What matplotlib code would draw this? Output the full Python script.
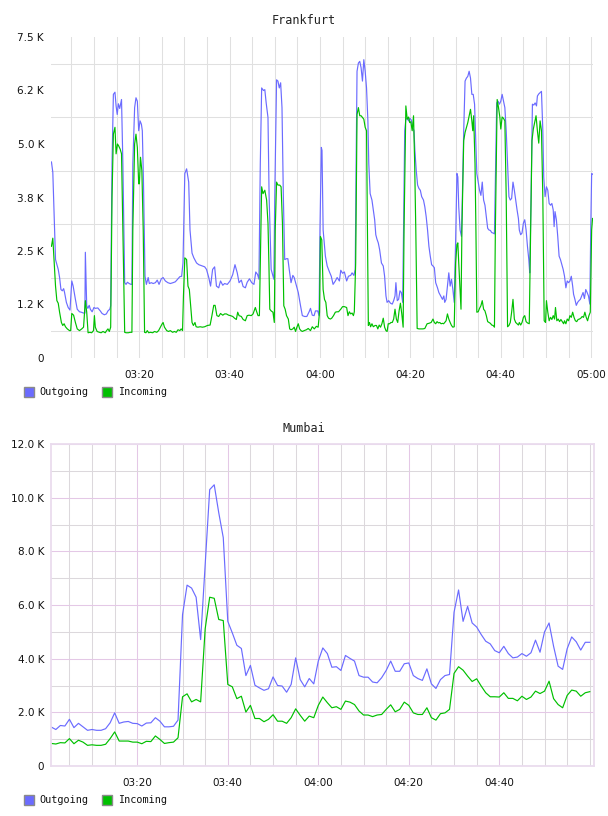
import matplotlib
matplotlib.use("Agg")
import matplotlib.pyplot as plt
from matplotlib.patches import Rectangle

# Frankfurt, minutes after 03:00 and bytes
fra_out_t = [0.6, 0.9, 1.5, 2.1, 2.4, 2.7, 3.0, 3.3, 3.5, 3.9, 4.3, 4.7, 5.1, 5.4, 5.9, 6.3, 6.8, 7.2, 7.7, 8.0,
             8.1, 8.4, 8.65, 8.95, 9.2, 9.6, 10.0, 10.3, 10.85, 11.4, 11.8, 12.3, 12.75, 13.1, 13.5, 13.7, 14.0, 14.3, 14.65, 14.9,
             15.15, 15.4, 15.7, 15.9, 16.1, 16.4, 16.8, 17.1, 17.4, 17.8, 18.2, 18.4, 18.6, 19.0, 19.3, 19.6, 19.9, 20.2, 20.5, 20.7,
             20.95, 21.3, 21.6, 22.0, 22.25, 22.7, 23.1, 23.6, 24.0, 24.4, 24.9, 25.3, 25.8, 26.35, 26.9, 27.5, 28.0, 28.5, 29.0, 29.4,
             29.7, 30.1, 30.5, 30.96, 31.25, 31.7, 32.1, 32.7, 33.2, 34.0, 34.5, 34.9, 35.4, 35.8, 36.25, 36.7, 37.1, 37.6, 38.0, 38.5,
             38.9, 39.5, 40.1, 40.7, 41.2, 41.7, 42.1, 42.6, 43.0, 43.5, 43.9, 44.4, 44.9, 45.4, 45.8, 46.2, 46.5, 46.8, 47.1, 47.5,
             47.8, 48.1, 48.5, 48.75, 49.2, 49.5, 49.8, 50.0, 50.4, 50.7, 51.0, 51.3, 51.6, 51.9, 52.2, 52.6, 52.9, 53.2, 53.6, 54.0,
             54.3, 54.8, 55.2, 55.7, 56.1, 56.6, 57.1, 57.6, 57.9, 58.3, 58.7, 59.0, 59.5, 59.8, 60.0, 60.3, 60.45, 60.7, 61.2, 61.6,
             62.1, 62.5, 62.9, 63.4, 63.8, 64.3, 64.6, 65.0, 65.4, 65.9, 66.3, 66.8, 67.1, 67.5, 67.8, 68.0, 68.2, 68.5, 68.8, 69.1,
             69.4, 69.7, 70.0, 70.3, 70.6, 70.8, 71.1, 71.5, 71.8, 72.1, 72.35, 72.6, 72.9, 73.2, 73.6, 74.0, 74.3, 74.6, 74.85, 75.2,
             75.6, 76.0, 76.3, 76.6, 76.8, 77.1, 77.4, 77.7, 78.0, 78.3, 78.5, 78.75, 79.0, 79.3, 79.6, 79.9, 80.2, 80.5, 80.8, 81.0,
             81.3, 81.6, 81.9, 82.2, 82.5, 82.9, 83.2, 83.5, 83.8, 84.1, 84.4, 84.7, 85.0, 85.3, 85.6, 86.0, 86.3, 86.7, 87.1, 87.4,
             87.6, 87.9, 88.2, 88.5, 88.8, 89.1, 89.4, 89.7, 90.0, 90.3, 90.5, 90.7, 91.0, 91.3, 91.5, 91.8, 92.1, 92.4, 92.7, 93.0,
             93.3, 93.6, 93.9, 94.2, 94.4, 94.7, 95.0, 95.3, 95.6, 95.9, 96.2, 96.5, 96.8, 97.1, 97.4, 97.7, 98.0, 98.3, 98.6, 98.8,
             99.1, 99.4, 99.7, 100.0, 100.3, 100.6, 100.9, 101.2, 101.5, 101.8, 102.1, 102.4, 102.7, 103.0, 103.3, 103.6, 103.9, 104.1, 104.4, 104.7,
             105.0, 105.3, 105.6, 105.9, 106.2, 106.4, 106.7, 107.0, 107.3, 107.6, 107.9, 108.1, 108.4, 108.7, 109.0, 109.3, 109.5, 109.8, 110.1, 110.4,
             110.7, 111.0, 111.3, 111.6, 111.8, 112.0, 112.3, 112.6, 112.9, 113.2, 113.5, 113.8, 114.1, 114.4, 114.7, 115.0, 115.3, 115.6, 115.9, 116.1,
             116.4, 116.7, 117.0, 117.3, 117.6, 117.9, 118.2, 118.5, 118.8, 119.1, 119.4, 119.7, 119.9, 120.1, 120.4]
fra_out = [4580, 4340, 2300, 2070, 1880, 1600, 1570, 1620, 1530, 1300, 1180, 1120, 1800, 1680, 1370, 1140, 1080, 1070, 1050, 1050,
           2470, 1220, 1160, 1230, 1140, 1080, 1180, 1160, 1170, 1100, 1040, 1010, 1030, 1100, 1140, 1220, 4540, 6160, 6210, 5890,
           5690, 5940, 5830, 5940, 6040, 4540, 1760, 1720, 1770, 1740, 1720, 1720, 4540, 5850, 6080, 6000, 5310, 5540, 5460, 5310,
           4150, 1910, 1720, 1880, 1740, 1760, 1740, 1760, 1820, 1720, 1850, 1880, 1800, 1760, 1740, 1760, 1780, 1840, 1900, 1910,
           2220, 4310, 4420, 4110, 2990, 2450, 2340, 2220, 2180, 2150, 2130, 2070, 1880, 1680, 2070, 2130, 1680, 1640, 1800, 1700,
           1740, 1720, 1800, 1950, 2180, 1990, 1760, 1820, 1670, 1640, 1770, 1850, 1760, 1720, 2010, 1950, 1840, 4540, 6310, 6250,
           6270, 5960, 5620, 3770, 2070, 1950, 1840, 3770, 6500, 6470, 6310, 6430, 5850, 3770, 2300, 2320, 2320, 2070, 1760, 1930,
           1880, 1680, 1530, 1220, 990, 970, 970, 1080, 1160, 1000, 990, 1100, 1100, 990, 2990, 4920, 4850, 2990, 2380, 2150,
           2010, 1910, 1720, 1800, 1880, 1800, 2050, 1980, 2010, 1800, 1910, 1930, 1990, 1930, 2070, 4540, 6700, 6890, 6930, 6780,
           6470, 6970, 6700, 6310, 5540, 4540, 3840, 3690, 3460, 3230, 2880, 2780, 2690, 2530, 2220, 2150, 1910, 1450, 1300, 1340,
           1280, 1260, 1340, 1450, 1760, 1340, 1370, 1570, 1530, 1300, 2990, 5310, 5580, 5600, 5540, 5600, 5560, 5390, 5310, 4850,
           4380, 4040, 3960, 3920, 3770, 3690, 3530, 3300, 2990, 2610, 2380, 2180, 2150, 2110, 1760, 1640, 1530, 1450, 1370, 1450,
           1300, 1370, 1680, 1990, 1680, 1840, 1600, 1300, 2690, 4310, 4230, 3530, 2990, 2840, 3770, 5310, 6470, 6540, 6580, 6700,
           6540, 6160, 6160, 5930, 5310, 4310, 4110, 3920, 3800, 4110, 3690, 3570, 3300, 3030, 2990, 2980, 2930, 2920, 2900, 4150,
           5960, 6000, 5930, 6000, 6160, 6000, 5850, 5310, 4540, 3770, 3690, 3730, 4110, 3920, 3690, 3460, 3260, 2990, 2880, 2920,
           3150, 3230, 2990, 2610, 2300, 1990, 3770, 5930, 5910, 5960, 5890, 6120, 6170, 6200, 6230, 5310, 4230, 3770, 4000, 3920,
           3610, 3570, 3610, 3460, 3070, 3420, 3230, 2840, 2380, 2300, 2180, 2070, 1910, 1640, 1800, 1760, 1800, 1910, 1680, 1490,
           1370, 1230, 1300, 1340, 1370, 1450, 1530, 1390, 1600, 1530, 1450, 1260, 2990, 4310, 4290]

fra_in_t = [0.6, 0.9, 1.2, 1.5, 1.8, 2.1, 2.4, 2.8, 3.1, 3.4, 3.7, 4.1, 4.6, 4.85, 5.1, 5.5, 5.9, 6.3, 6.8, 7.3,
            7.7, 8.1, 8.4, 8.7, 9.1, 9.5, 9.9, 10.1, 10.3, 10.7, 11.2, 11.6, 12.0, 12.5, 12.8, 13.1, 13.4, 13.7, 14.0, 14.3,
            14.65, 14.9, 15.2, 15.45, 15.8, 16.1, 16.4, 16.8, 17.1, 17.6, 18.0, 18.4, 18.6, 19.0, 19.3, 19.6, 19.9, 20.05, 20.3, 20.6,
            20.9, 21.2, 21.5, 21.8, 22.1, 22.5, 23.0, 23.4, 23.9, 24.3, 24.7, 25.1, 25.3, 25.6, 26.1, 26.5, 26.9, 27.4, 27.8, 28.2,
            28.6, 29.0, 29.3, 29.6, 29.8, 30.1, 30.5, 30.8, 31.1, 31.4, 31.7, 32.0, 32.35, 32.6, 33.0, 33.5, 34.0, 34.5, 35.1, 35.7,
            36.1, 36.5, 36.8, 37.2, 37.6, 38.0, 38.5, 38.9, 39.3, 39.8, 40.2, 40.7, 41.1, 41.5, 41.8, 42.1, 42.6, 43.0, 43.5, 43.9,
            44.3, 44.8, 45.2, 45.7, 46.0, 46.3, 46.6, 46.8, 47.1, 47.4, 47.8, 48.2, 48.5, 48.7, 48.9, 49.2, 49.6, 49.9, 50.1, 50.4,
            50.7, 51.1, 51.4, 51.7, 52.0, 52.3, 52.6, 53.0, 53.3, 53.6, 54.0, 54.3, 54.6, 54.9, 55.2, 55.5, 55.8, 56.1, 56.5, 57.0,
            57.4, 57.9, 58.3, 58.75, 59.2, 59.6, 59.9, 60.1, 60.4, 60.7, 61.0, 61.3, 61.6, 61.9, 62.3, 62.6, 63.0, 63.4, 63.75, 64.1,
            64.6, 65.0, 65.4, 65.9, 66.2, 66.5, 66.8, 67.1, 67.4, 67.6, 67.9, 68.2, 68.5, 68.8, 69.1, 69.4, 69.7, 70.0, 70.3, 70.5,
            70.7, 70.95, 71.2, 71.5, 71.8, 72.2, 72.5, 72.8, 73.1, 73.4, 73.7, 74.0, 74.3, 74.6, 74.85, 75.1, 75.4, 75.7, 76.0, 76.3,
            76.6, 76.9, 77.2, 77.5, 77.8, 78.1, 78.4, 78.6, 79.0, 79.3, 79.6, 79.85, 80.1, 80.4, 80.7, 80.95, 81.2, 81.5, 81.9, 82.35,
            82.8, 83.2, 83.7, 84.1, 84.6, 85.0, 85.3, 85.6, 85.9, 86.2, 86.5, 86.8, 87.1, 87.35, 87.6, 87.9, 88.2, 88.5, 88.8, 89.1,
            89.4, 89.7, 90.0, 90.3, 90.5, 90.7, 91.0, 91.2, 91.4, 91.8, 92.1, 92.4, 92.7, 93.0, 93.3, 93.6, 93.8, 94.0, 94.3, 94.5,
            94.7, 95.0, 95.3, 95.6, 95.9, 96.2, 96.5, 96.8, 97.1, 97.4, 97.7, 98.0, 98.3, 98.6, 98.8, 99.2, 99.5, 99.8, 100.0, 100.3,
            100.6, 100.9, 101.2, 101.5, 101.8, 102.1, 102.4, 102.7, 103.0, 103.3, 103.6, 103.9, 104.1, 104.4, 104.7, 105.0, 105.3, 105.6, 105.9, 106.3,
            106.5, 106.9, 107.2, 107.5, 107.8, 108.1, 108.4, 108.7, 109.0, 109.3, 109.6, 109.9, 110.1, 110.4, 110.7, 111.0, 111.3, 111.6, 111.9, 112.1,
            112.4, 112.7, 113.0, 113.3, 113.6, 113.9, 114.1, 114.4, 114.7, 115.0, 115.3, 115.6, 115.9, 116.2, 116.5, 116.8, 117.1, 117.4, 117.7, 118.0,
            118.3, 118.6, 118.9, 119.2, 119.5, 119.8, 120.1, 120.3]
fra_in = [2610, 2800, 2220, 1680, 1340, 1280, 1070, 830, 760, 800, 730, 680, 640, 640, 1040, 1000, 830, 680, 640, 680,
          720, 1340, 1070, 590, 600, 590, 640, 990, 720, 620, 600, 590, 620, 590, 640, 680, 620, 720, 3770, 5230,
          5390, 4770, 5000, 4960, 4880, 4770, 2990, 600, 590, 590, 600, 600, 2990, 5000, 5230, 4920, 4070, 4070, 4690, 4380,
          2990, 600, 590, 640, 590, 600, 590, 620, 600, 640, 720, 800, 830, 720, 640, 620, 640, 600, 620, 600,
          660, 640, 680, 640, 1450, 2340, 2300, 1680, 1600, 1220, 830, 760, 830, 730, 720, 730, 720, 730, 760, 770,
          990, 1230, 1230, 990, 970, 1040, 1000, 1030, 1030, 1000, 990, 970, 930, 900, 1070, 990, 970, 900, 870, 990,
          1000, 990, 1030, 1180, 1080, 990, 990, 2220, 4000, 3840, 3920, 3690, 3150, 2220, 1140, 1100, 1070, 830, 2990, 4110,
          4040, 4040, 4000, 3150, 1220, 1140, 990, 910, 680, 660, 680, 720, 620, 720, 800, 680, 640, 620, 640, 660,
          690, 640, 730, 680, 740, 720, 1070, 2840, 2760, 1600, 1370, 1300, 990, 930, 910, 930, 990, 1070, 1080, 1080,
          1140, 1200, 1200, 1180, 990, 1080, 1030, 1050, 990, 1080, 2220, 5690, 5850, 5660, 5660, 5620, 5580, 5390, 5310, 2990,
          760, 830, 730, 800, 730, 760, 760, 680, 770, 720, 800, 930, 720, 640, 620, 800, 800, 830, 830, 910,
          1140, 910, 830, 1100, 1280, 1030, 720, 2990, 5890, 5580, 5630, 5500, 5520, 5310, 5660, 4540, 2990, 690, 680, 680,
          680, 690, 800, 810, 830, 910, 830, 800, 850, 820, 830, 800, 810, 800, 830, 870, 1030, 910, 830, 760,
          720, 730, 2220, 2650, 2690, 2220, 1600, 1140, 2990, 5080, 5270, 5390, 5500, 5660, 5810, 5540, 5310, 5660, 4540, 2990,
          1070, 1080, 1160, 1220, 1340, 1140, 1100, 990, 850, 830, 810, 770, 760, 720, 2990, 6040, 5850, 5620, 5350, 5630,
          5600, 5540, 3770, 730, 760, 830, 1070, 1370, 910, 830, 800, 770, 830, 770, 830, 950, 990, 850, 820, 800,
          2220, 5080, 5350, 5500, 5660, 5310, 5020, 5540, 5310, 3770, 870, 830, 1340, 1070, 870, 950, 900, 990, 910, 1180,
          870, 910, 850, 900, 850, 800, 870, 800, 910, 870, 990, 950, 1070, 950, 870, 850, 900, 910, 930, 970,
          950, 1070, 950, 870, 990, 1070, 2990, 3260]

# Mumbai, one sample per minute after 03:00
mum_t = list(range(1, 121))
mum_out = [1450, 1360, 1510, 1490, 1740, 1430, 1590, 1460, 1330, 1360, 1330, 1330, 1390, 1610, 1980, 1590, 1640, 1660, 1590, 1580,
           1490, 1600, 1610, 1800, 1670, 1460, 1460, 1480, 1710, 5640, 6740, 6630, 6290, 4710, 7500, 10300, 10480, 9440, 8510, 5390,
           4960, 4500, 4380, 3370, 3750, 3010, 2910, 2820, 2880, 3320, 3000, 2980, 2750, 3040, 4030, 3220, 2950, 3260, 3060, 3910,
           4400, 4190, 3680, 3700, 3560, 4120, 4010, 3910, 3370, 3310, 3310, 3130, 3100, 3290, 3560, 3910, 3530, 3530, 3810, 3840,
           3370, 3260, 3190, 3620, 3060, 2890, 3220, 3370, 3410, 5730, 6560, 5390, 5950, 5330, 5180, 4900, 4650, 4550, 4300, 4220,
           4460, 4190, 4030, 4060, 4190, 4090, 4220, 4690, 4240, 5000, 5330, 4460, 3720, 3600, 4370, 4810, 4630, 4320, 4610, 4610]
mum_in = [840, 820, 870, 860, 1020, 830, 960, 890, 770, 790, 770, 770, 810, 1020, 1270, 930, 930, 930, 890, 890,
          830, 920, 910, 1120, 990, 840, 870, 890, 1050, 2580, 2690, 2390, 2480, 2390, 5110, 6290, 6250, 5460, 5420, 3040,
          2950, 2510, 2600, 2010, 2260, 1770, 1770, 1650, 1740, 1910, 1670, 1670, 1590, 1800, 2130, 1890, 1670, 1860, 1800, 2260,
          2570, 2360, 2170, 2210, 2110, 2420, 2380, 2290, 2050, 1900, 1900, 1840, 1900, 1920, 2110, 2280, 2020, 2110, 2380, 2260,
          1980, 1920, 1920, 2170, 1800, 1710, 1950, 1980, 2110, 3450, 3700, 3570, 3350, 3150, 3250, 2980, 2730, 2580, 2580, 2570,
          2730, 2520, 2520, 2430, 2600, 2480, 2570, 2790, 2700, 2790, 3160, 2510, 2290, 2170, 2630, 2830, 2790, 2600, 2730, 2770]

fra_yticks = [0, 1250, 2500, 3750, 5000, 6250, 7500]
fra_ylabels = ["0", "1.2 K", "2.5 K", "3.8 K", "5.0 K", "6.2 K", "7.5 K"]
fra_xticks = [20, 40, 60, 80, 100, 120]
fra_xlabels = ["03:20", "03:40", "04:00", "04:20", "04:40", "05:00"]
mum_yticks = [0, 2000, 4000, 6000, 8000, 10000, 12000]
mum_ylabels = ["0", "2.0 K", "4.0 K", "6.0 K", "8.0 K", "10.0 K", "12.0 K"]
mum_xticks = [20, 40, 60, 80, 100]
mum_xlabels = ["03:20", "03:40", "04:00", "04:20", "04:40"]
series_names = ["Outgoing", "Incoming"]

BLUE = "#6b6bff"
GREEN = "#00c000"
W, H = 608, 816
LW = 0.85   # data lines, about one pixel
GW = 0.75   # grid lines

fig = plt.figure(figsize=(W / 100, H / 100), dpi=100)


def px_box(left, top, right, bottom):
    return [left / W, 1 - bottom / H, (right - left) / W, (bottom - top) / H]


def add_legend(y):
    x = 24
    for name, col, tx in zip(series_names, [BLUE, GREEN], [39, 118]):
        fig.add_artist(Rectangle((x / W, 1 - (y + 5) / H), 10 / W, 10 / H, transform=fig.transFigure,
                                 facecolor=col, edgecolor="#8a8a8a", lw=1))
        fig.text(tx / W, 1 - y / H, name, ha="left", va="center", family="DejaVu Sans Mono",
                 fontsize=7.3, color="#111111")
        x = 102


def common(ax, xlim, yticks, ylabels, xticks, xlabels):
    ax.set_xlim(*xlim)
    ax.set_ylim(yticks[0], yticks[-1])
    ax.set_yticks(yticks)
    ax.set_yticklabels(ylabels)
    ax.set_xticks(xticks)
    ax.set_xticklabels(xlabels)
    ax.set_xticks(range(5, int(xlim[1]) + 1, 5), minor=True)
    ax.tick_params(which="both", length=0, labelsize=7.5, colors="#111111")
    ax.tick_params(axis="y", pad=5)
    ax.tick_params(axis="x", pad=8.5)
    ax.set_axisbelow(True)


# ---- Frankfurt ----
ax1 = fig.add_axes(px_box(51, 37, 593, 358))
common(ax1, (0.5, 120.4), fra_yticks, fra_ylabels, fra_xticks, fra_xlabels)
ax1.set_yticks([625 + 1250 * i for i in range(6)], minor=True)
ax1.grid(True, which="both", axis="x", color="#e0e0e0", lw=GW)
ax1.grid(True, which="minor", axis="y", color="#e0e0e0", lw=GW)
for s in ax1.spines.values():
    s.set_visible(False)
ax1.plot(fra_out_t, fra_out, color=BLUE, lw=LW)
ax1.plot(fra_in_t, fra_in, color=GREEN, lw=LW)
fig.text(304 / W, 1 - 20 / H, "Frankfurt", ha="center", va="center",
         family="DejaVu Sans Mono", fontsize=8.5, color="#222222")
add_legend(392)

# ---- Mumbai ----
ax2 = fig.add_axes(px_box(51, 444, 594, 766))
common(ax2, (0.93, 120.93), mum_yticks, mum_ylabels, mum_xticks, mum_xlabels)
ax2.set_yticks(range(1000, 12000, 2000), minor=True)
ax2.grid(True, which="major", color="#e4c8e6", lw=GW)
ax2.grid(True, which="minor", color="#dcd8dc", lw=GW)
for s in ax2.spines.values():
    s.set_color("#eadcee")
    s.set_linewidth(1.3)
ax2.plot(mum_t, mum_out, color=BLUE, lw=LW)
ax2.plot(mum_t, mum_in, color=GREEN, lw=LW)
fig.text(304 / W, 1 - 429 / H, "Mumbai", ha="center", va="center",
         family="DejaVu Sans Mono", fontsize=8.5, color="#222222")
add_legend(800)

fig.savefig("out.png", dpi=100)
